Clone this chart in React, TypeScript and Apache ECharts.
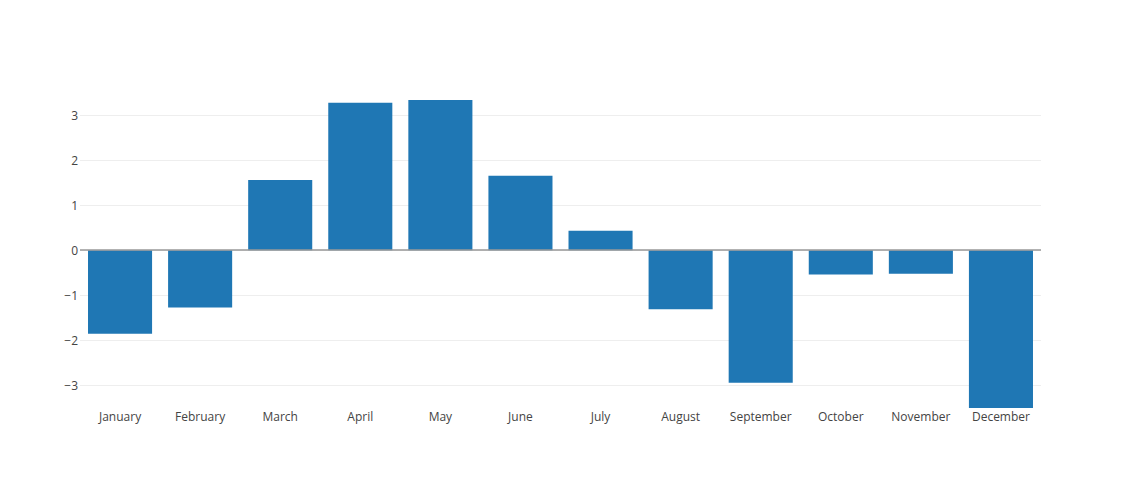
import React, { useEffect, useRef } from "react";
import * as echarts from "echarts";

const months = [
  "January", "February", "March", "April", "May", "June",
  "July", "August", "September", "October", "November", "December",
];
const values = [-1.85, -1.27, 1.56, 3.27, 3.333, 1.65, 0.43, -1.31, -2.94, -0.54, -0.52, -3.5];
const yMin = -3.5;
const yMax = 3.333;

export default function App() {
  const ref = useRef<HTMLDivElement>(null);
  useEffect(() => {
    if (!ref.current) return;
    const chart = echarts.init(ref.current, undefined, { renderer: "svg" });
    chart.setOption({
      animation: false,
      backgroundColor: "#fff",
      textStyle: { fontFamily: "Open Sans", color: "#444" },
      grid: { left: 80, right: 80, top: 100, bottom: 80, containLabel: false },
      xAxis: {
        type: "category",
        data: months,
        axisLine: { show: false, onZero: false },
        axisTick: { show: false },
        axisLabel: { color: "#444", fontSize: 12, fontFamily: "Open Sans", margin: 2, interval: 0 },
        splitLine: { show: false },
      },
      yAxis: {
        type: "value",
        min: yMin,
        max: yMax,
        minInterval: 1,
        maxInterval: 1,
        axisLine: { show: false },
        axisTick: { show: false },
        axisLabel: {
          color: "#444",
          fontSize: 12,
          fontFamily: "Open Sans",
          margin: 2,
          showMinLabel: false,
          showMaxLabel: false,
          formatter: (v: number) =>
            Math.abs(v - Math.round(v)) > 1e-6 ? "" : v < 0 ? "\u2212" + Math.abs(v) : String(v),
        },
        splitLine: {
          show: true,
          showMinLine: false,
          showMaxLine: false,
          lineStyle: { color: "#eeeeee", width: 1 },
        },
      },
      series: [
        {
          type: "bar",
          data: values,
          barCategoryGap: "20%",
          itemStyle: { color: "#1f77b4" },
          markLine: {
            silent: true,
            symbol: "none",
            label: { show: false },
            lineStyle: { color: "#999999", width: 1.5, type: "solid" },
            data: [{ yAxis: 0 }],
          },
        },
      ],
    });
    return () => chart.dispose();
  }, []);
  return (
    <div
      ref={ref}
      style={{ position: "absolute", left: 0, top: 0, width: 1121, height: 488 }}
    />
  );
}
